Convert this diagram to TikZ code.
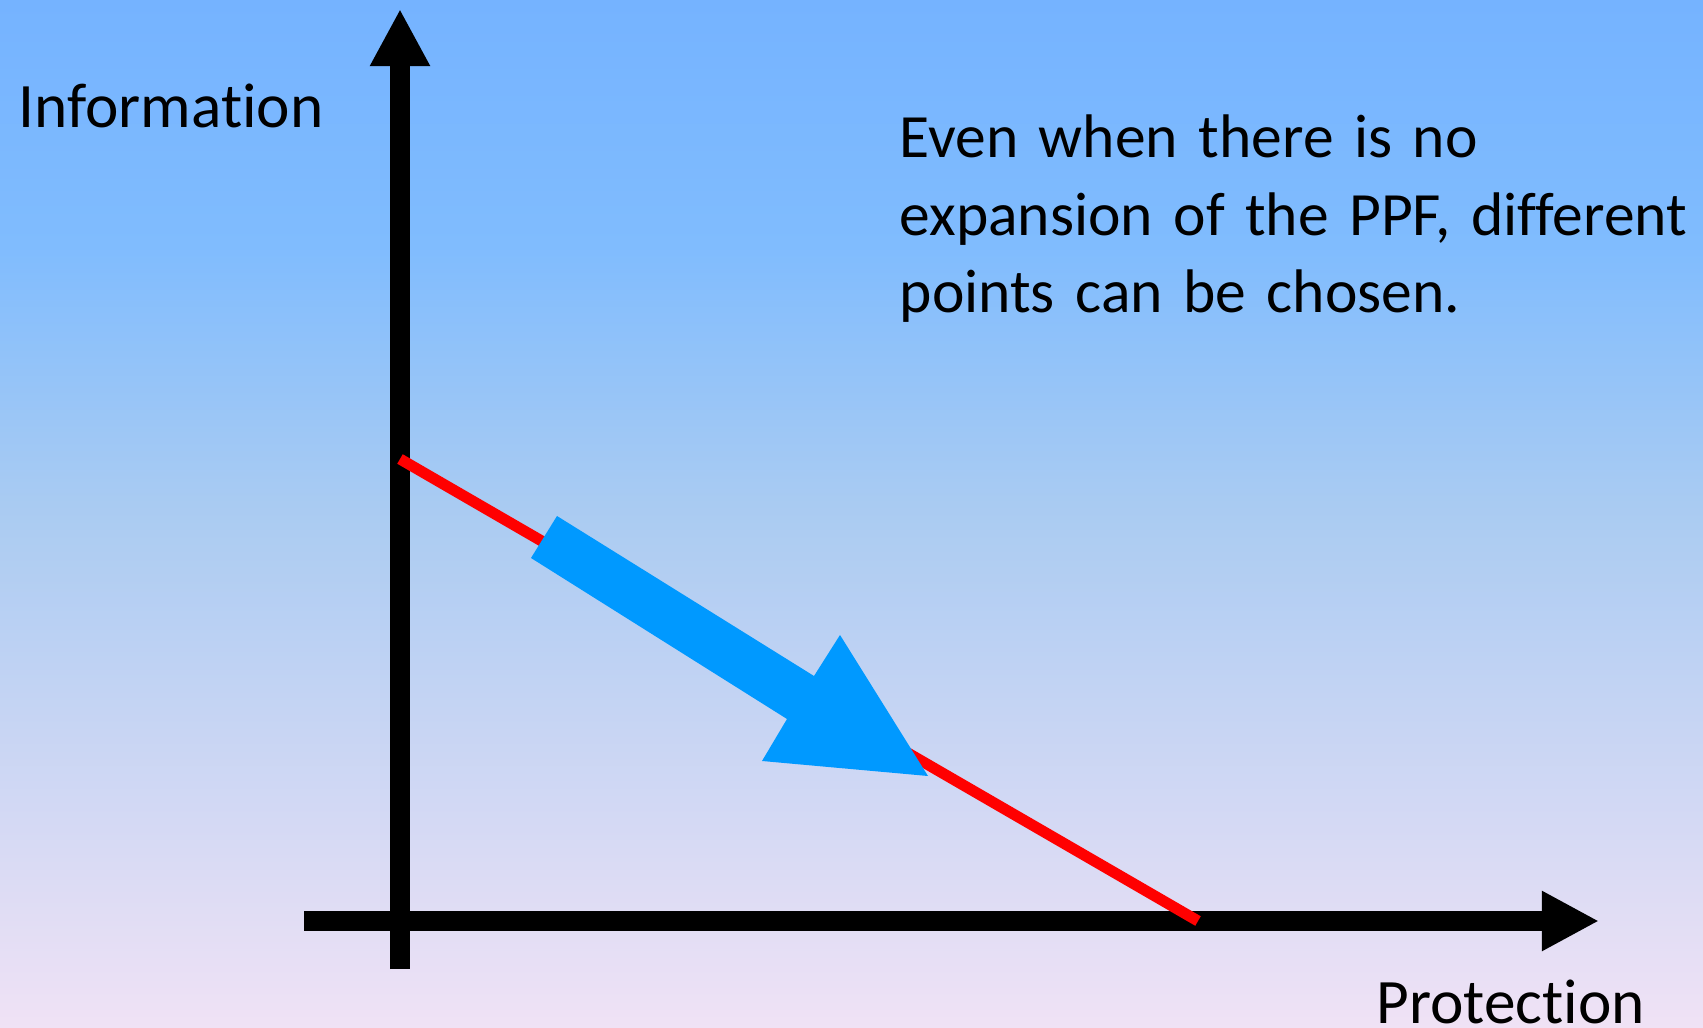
\documentclass[tikz,border=0pt]{standalone}
\usepackage{fontspec}
\setmainfont{Carlito}[Ligatures=NoCommon]
\usetikzlibrary{positioning,arrows.meta}
\definecolor{skytop}{HTML}{75B3FF}
\definecolor{skyupper}{HTML}{80BCFE}
\definecolor{skymid}{HTML}{A9CBF2}
\definecolor{lilacbottom}{HTML}{F0E2F5}
\definecolor{ppfred}{RGB}{255,0,0}
\definecolor{shiftblue}{HTML}{0099FF}
\pgfdeclareverticalshading{slidebg}{100bp}{color(0bp)=(lilacbottom); color(25bp)=(lilacbottom);
  color(50.5bp)=(skymid); color(63bp)=(skyupper); color(75bp)=(skytop); color(100bp)=(skytop)}
\tikzset{
  axisline/.style={line width=0.19cm,-{Triangle[length=0.57cm,width=0.56cm]}},
  slidetext/.style={font=\fontsize{18}{21.9}\selectfont,inner sep=0pt}
}

\begin{document}
\begin{tikzpicture}[x=0.01cm,y=-0.01cm]
    \shade[shading=slidebg] (0,0) rectangle (1703,1028);
    \useasboundingbox (0,0) rectangle (1703,1028);

    \coordinate (yfoot) at (400,969);
    \coordinate (ytip) at (400,9);
    \coordinate (xfoot) at (304,921);
    \coordinate (xtip) at (1599,921);
    \draw[axisline] (yfoot) -- (ytip);
    \draw[axisline] (xfoot) -- (xtip);

    % the PPF and the move along it
    \coordinate (ppftop) at (400,459);
    \coordinate (ppfend) at (1198,921);
    \draw[ppfred,line width=0.11cm] (ppftop) -- (ppfend);
    \fill[shiftblue] (531,558) -- (557,516) -- (814,676) -- (840,635)
      -- (928,776) -- (762,761) -- (787,719) -- cycle;

    \node[slidetext,anchor=base west] (infolabel) at (18,128) {Information};
    \node[slidetext,anchor=base west] (protlabel) at (1376,1023) {Protection};
    \node[slidetext,font=\fontsize{17.5}{21.9}\selectfont,anchor=base west,
          text width=8.3cm,align=left] (note) at (899,158)
      {Even when there is no\\ expansion of the PPF, different\\ points can be chosen.};
\end{tikzpicture}
\end{document}
